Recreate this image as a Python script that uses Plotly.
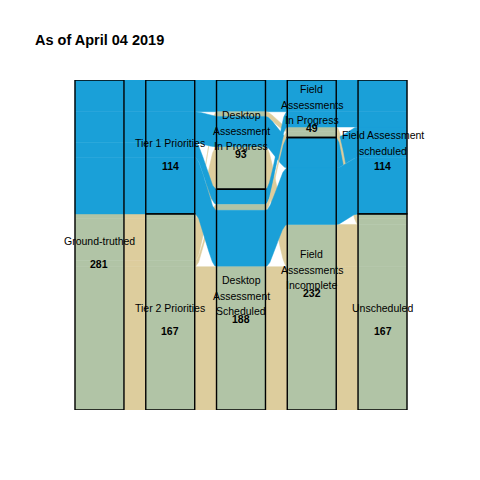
import numpy as np
import plotly.graph_objects as go

title_text = "As of April 04 2019"

# stratum names on each of the five axes
axis_strata = [
    ["Ground-truthed"],
    ["Tier 1 Priorities", "Tier 2 Priorities"],
    ["Desktop\nAssessment\nIn Progress", "Desktop\nAssessment\nScheduled"],
    ["Field\nAssessments\nIn Progress", "Field\nAssessments\nIncomplete"],
    ["Field Assessment\nscheduled", "Unscheduled"],
]

# alluvia: stratum index on each axis, plus size
flow_ground = [0, 0, 0, 0, 0, 0, 0, 0]
flow_tier = [0, 1, 0, 1, 0, 1, 0, 1]
flow_desk = [0, 0, 0, 0, 1, 1, 1, 1]
flow_field = [0, 0, 1, 1, 0, 0, 1, 1]
flow_sched = [0, 1, 0, 1, 0, 1, 0, 1]
flow_count = [27, 4, 26, 36, 13, 5, 48, 122]

BLUE = "#1AA0D8"
TAN = "#DDCD9D"
GREEN = "#B1C4A6"

n_flow = len(flow_count)
paths = [flow_ground, flow_tier, flow_desk, flow_field, flow_sched]
n_axes = len(paths)
total = sum(flow_count)

# lode ordering keys per axis (within a stratum)
def key(axis, i):
    g, t, d, f, s = flow_ground[i], flow_tier[i], flow_desk[i], flow_field[i], flow_sched[i]
    if axis == 0:
        return (g, t, d, f)
    if axis == 1:
        return (t, d, f)
    if axis == 2:
        return (d, f, t)
    if axis == 3:
        return (f, s, d)
    return (s, f, d)

# lode positions
pos = np.zeros((n_axes, n_flow, 2))
for a in range(n_axes):
    order = sorted(range(n_flow), key=lambda i: key(a, i))
    y = 0.0
    for i in order:
        pos[a, i] = (y, y + flow_count[i])
        y += flow_count[i]

hw = 0.346
xs_axis = np.arange(1, n_axes + 1)

fig = go.Figure()

# ribbons between axes
for a in range(n_axes - 1):
    x0 = xs_axis[a] + hw
    x1 = xs_axis[a + 1] - hw
    t = np.linspace(0, 1, 60)
    s = t * t * (3 - 2 * t)
    xx = x0 + (x1 - x0) * t
    for i in range(n_flow):
        top = pos[a, i, 0] + (pos[a + 1, i, 0] - pos[a, i, 0]) * s
        bot = pos[a, i, 1] + (pos[a + 1, i, 1] - pos[a, i, 1]) * s
        col = BLUE if flow_sched[i] == 0 else TAN
        fig.add_trace(go.Scatter(
            x=np.concatenate([xx, xx[::-1]]),
            y=np.concatenate([top, bot[::-1]]),
            fill="toself", fillcolor=col, mode="lines",
            line=dict(width=0.5, color=col), hoverinfo="skip"))

# lodes inside strata
for a in range(n_axes):
    for i in range(n_flow):
        col = BLUE if flow_sched[i] == 0 else GREEN
        x0 = xs_axis[a] - hw
        x1 = xs_axis[a] + hw
        y0, y1 = pos[a, i]
        fig.add_trace(go.Scatter(
            x=[x0, x1, x1, x0, x0], y=[y0, y0, y1, y1, y0],
            fill="toself", fillcolor=col, mode="lines",
            line=dict(width=0.5, color=col), hoverinfo="skip"))

# strata outlines and labels
for a in range(n_axes):
    for k, name in enumerate(axis_strata[a]):
        cnt = sum(c for c, p in zip(flow_count, paths[a]) if p == k)
        y0 = sum(c for c, p in zip(flow_count, paths[a]) if p < k)
        y1 = y0 + cnt
        fig.add_shape(type="rect", x0=xs_axis[a] - hw, x1=xs_axis[a] + hw,
                      y0=y0, y1=y1, line=dict(color="black", width=1.4),
                      fillcolor="rgba(0,0,0,0)", layer="above")
        mid = (y0 + y1) / 2
        lines = name.split("\n")
        nl = len(lines)
        for j, ln in enumerate(lines):
            off = -4 + (j - (nl - 1) / 2) * 15.5
            fig.add_annotation(x=xs_axis[a], y=mid, text=ln, showarrow=False,
                               xanchor="center", yanchor="middle", yshift=-off,
                               font=dict(family="Liberation Sans", size=10.5, color="black"))
        fig.add_annotation(x=xs_axis[a], y=mid, text="<b>%d</b>" % cnt, showarrow=False,
                           xanchor="center", yanchor="middle", yshift=-19,
                           font=dict(family="Liberation Sans", size=10.5, color="black"))

fig.add_annotation(x=33 / 480, y=1 - 40 / 480, xref="paper", yref="paper",
                   text="<b>%s</b>" % title_text, showarrow=False,
                   xanchor="left", yanchor="middle",
                   font=dict(family="Liberation Sans", size=14.5, color="black"))

fig.update_layout(
    width=480, height=480, margin=dict(l=0, r=0, t=0, b=0),
    paper_bgcolor="white", plot_bgcolor="white", showlegend=False,
    xaxis=dict(visible=False, range=[0.5, 5.5], domain=[64.1 / 480, 417.9 / 480]),
    yaxis=dict(visible=False, range=[total, 0], domain=[70 / 480, 400 / 480]),
)

fig.write_html("out.html")
